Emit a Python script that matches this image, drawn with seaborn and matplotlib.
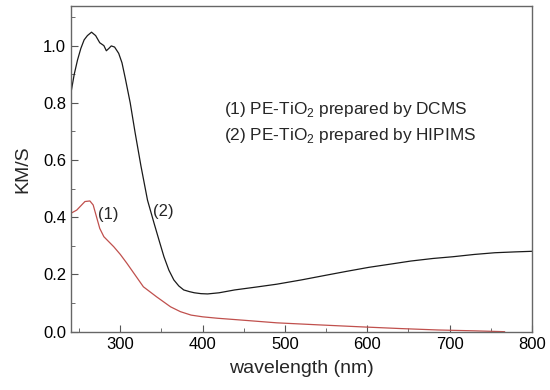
import numpy as np
import pandas as pd
import matplotlib
matplotlib.use("Agg")
import matplotlib.pyplot as plt
import seaborn as sns

# Series (2) PE-TiO2 prepared by HIPIMS (black)
wl_hipims = [240, 244, 248, 252, 256, 260, 265, 270, 275, 280, 283, 286, 289, 293, 298,
             302, 306, 312, 318, 325, 333, 341, 347, 353, 359, 365, 371, 377, 384, 390,
             398, 406, 420, 439, 465, 490, 520, 551, 575, 602, 630, 653, 680, 704,
             730, 755, 780, 800]
km_hipims = [0.835, 0.90, 0.95, 0.99, 1.02, 1.035, 1.047, 1.035, 1.01, 1.0, 0.982, 0.99, 0.999, 0.995, 0.973,
             0.94, 0.886, 0.80, 0.695, 0.58, 0.46, 0.379, 0.32, 0.262, 0.215, 0.181, 0.16, 0.146, 0.14, 0.136,
             0.133, 0.132, 0.136, 0.146, 0.156, 0.166, 0.181, 0.198, 0.211, 0.225, 0.237, 0.247, 0.256, 0.262,
             0.27, 0.276, 0.279, 0.281]

# Series (1) PE-TiO2 prepared by DCMS (red)
wl_dcms = [240, 247, 252, 257, 263, 267, 271, 275, 280, 292, 300, 308, 318, 328, 344,
           361, 373, 386, 400, 418, 450, 490, 540, 592, 640, 686, 730, 767]
km_dcms = [0.414, 0.425, 0.44, 0.455, 0.457, 0.443, 0.402, 0.361, 0.332, 0.297, 0.27, 0.239, 0.198, 0.157, 0.122,
           0.087, 0.07, 0.058, 0.052, 0.047, 0.04, 0.031, 0.024, 0.017, 0.011, 0.006, 0.003, 0.0]

x_ticks = [300, 400, 500, 600, 700, 800]
y_ticks = [0.0, 0.2, 0.4, 0.6, 0.8, 1.0]

df = pd.concat([
    pd.DataFrame({"wavelength": wl_dcms, "KM/S": km_dcms, "sample": "(1)"}),
    pd.DataFrame({"wavelength": wl_hipims, "KM/S": km_hipims, "sample": "(2)"}),
])

sns.set_style("ticks")
plt.rcParams["font.family"] = ["Liberation Sans", "DejaVu Sans"]
plt.rcParams["mathtext.fontset"] = "custom"
plt.rcParams["mathtext.rm"] = "Liberation Sans"

fig = plt.figure(figsize=(5.5, 3.9), dpi=100)
ax = fig.add_axes([0.129, 0.1495, 0.838, 0.8355])

sns.lineplot(data=df, x="wavelength", y="KM/S", hue="sample",
             palette={"(1)": "#c0504d", "(2)": "#1a1a1a"}, linewidth=0.9,
             legend=False, ax=ax, sort=False)

ax.set_xlim(240, 800)
ax.set_ylim(0, 1.139)
ax.set_xticks(x_ticks)
ax.set_xticks([250, 350, 450, 550, 650, 750], minor=True)
ax.set_yticks(y_ticks)
ax.set_yticklabels([f"{v:.1f}" for v in y_ticks])
ax.set_yticks([0.1, 0.3, 0.5, 0.7, 0.9, 1.1], minor=True)
ax.tick_params(which="both", direction="in", colors="#555555", labelcolor="black", labelsize=12)
ax.tick_params(which="major", length=5)
ax.tick_params(which="minor", length=3)
for s in ax.spines.values():
    s.set_color("#666666")
    s.set_linewidth(1.0)

ax.set_xlabel("wavelength (nm)", fontsize=14, labelpad=6)
ax.set_ylabel("KM/S", fontsize=14, labelpad=8)

ax.text(0.332, 0.683, "(1) PE-TiO$_2$ prepared by DCMS", transform=ax.transAxes, fontsize=12.4, va="center")
ax.text(0.332, 0.603, "(2) PE-TiO$_2$ prepared by HIPIMS", transform=ax.transAxes, fontsize=12.4, va="center")
ax.text(273, 0.408, "(1)", fontsize=12, va="center")
ax.text(340, 0.42, "(2)", fontsize=12, va="center")

fig.savefig("out.png", dpi=100)
